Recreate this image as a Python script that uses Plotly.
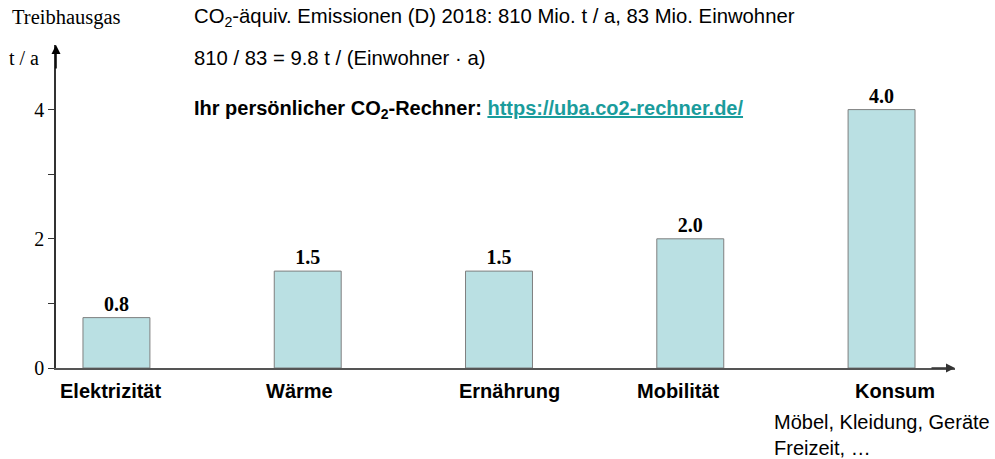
import plotly.graph_objects as go

categories = ['Elektrizität', 'Wärme', 'Ernährung', 'Mobilität', 'Konsum']
values = [0.78, 1.5, 1.5, 2.0, 4.0]
value_labels = ['0.8', '1.5', '1.5', '2.0', '4.0']
y_ticks = [0, 1, 2, 3, 4]
y_tick_labels = ['0', '', '2', '', '4']

serif = 'Liberation Serif, Times New Roman, serif'
sans = 'Liberation Sans, Arial, sans-serif'

fig = go.Figure(go.Bar(
    x=list(range(len(categories))),
    y=values,
    width=0.35,
    marker=dict(color='#bae0e3', line=dict(color='#7f7f7f', width=1)),
    text=value_labels,
    texttemplate='<b>%{text}</b>',
    textposition='outside',
    textfont=dict(family=serif, size=20, color='black'),
    cliponaxis=False,
))

fig.update_layout(
    width=995, height=459,
    margin=dict(l=56, r=40, t=45, b=91),
    plot_bgcolor='white', paper_bgcolor='white',
    showlegend=False,
    xaxis=dict(range=[-0.316, 4.384], showticklabels=False,
               showline=True, linecolor='#555', linewidth=1.5,
               showgrid=False, zeroline=False, ticks=''),
    yaxis=dict(range=[0, 5.0], tickvals=y_ticks, ticktext=y_tick_labels,
               tickfont=dict(family=serif, size=20, color='black'),
               showline=True, linecolor='#333', linewidth=1.5,
               ticks='outside', ticklen=6, tickcolor='#333',
               showgrid=False, zeroline=False),
)

# category names sit slightly off the bar centres in the original
label_shift = [-6, -8, 10, -12, 13]
for i, c in enumerate(categories):
    fig.add_annotation(xref='x', yref='paper', x=i, y=0, yshift=-10, xshift=label_shift[i],
                       yanchor='top', text='<b>%s</b>' % c, showarrow=False,
                       font=dict(family=sans, size=20, color='black'))

# arrow heads on the axes
fig.add_annotation(xref='paper', yref='paper', x=0, y=1, ax=0, ay=25, text='',
                   showarrow=True, arrowhead=2, arrowsize=1.2, arrowwidth=1.5, arrowcolor='black')
fig.add_annotation(xref='paper', yref='paper', x=1, y=0, ax=-25, ay=0, text='',
                   showarrow=True, arrowhead=2, arrowsize=1.2, arrowwidth=1.5, arrowcolor='#333')

# texts
fig.add_annotation(xref='paper', yref='paper', x=-0.051, y=1.085, xanchor='left', yanchor='middle',
                   text='Treibhausgas', showarrow=False, font=dict(family=serif, size=20.5, color='black'))
fig.add_annotation(xref='paper', yref='paper', x=-0.055, y=0.96, xanchor='left', yanchor='middle',
                   text='t / a', showarrow=False, font=dict(family=serif, size=20, color='black'))
fig.add_annotation(xref='paper', yref='paper', x=0.151, y=1.085, xanchor='left', yanchor='middle',
                   text='CO<sub>2</sub>-äquiv. Emissionen (D) 2018: 810 Mio. t / a, 83 Mio. Einwohner',
                   showarrow=False, font=dict(family=sans, size=20.3, color='black'))
fig.add_annotation(xref='paper', yref='paper', x=0.151, y=0.96, xanchor='left', yanchor='middle',
                   text='810 / 83 = 9.8 t / (Einwohner · a)',
                   showarrow=False, font=dict(family=sans, size=20.3, color='black'))
fig.add_annotation(xref='paper', yref='paper', x=0.151, y=0.80, xanchor='left', yanchor='middle',
                   text='<b>Ihr persönlicher CO<sub>2</sub>-Rechner: '
                        '<span style="color:#1a9c9c"><u>https://uba.co2-rechner.de/</u></span></b>',
                   showarrow=False, font=dict(family=sans, size=20, color='black'))
fig.add_annotation(xref='paper', yref='paper', x=0.796, y=-0.127, xanchor='left', yanchor='top',
                   text='Möbel, Kleidung, Geräte<br>Freizeit, …', align='left',
                   showarrow=False, font=dict(family=sans, size=20, color='black'))

fig.write_html('out.html', config={'displayModeBar': False},
               post_script="document.body.style.margin='0';")
